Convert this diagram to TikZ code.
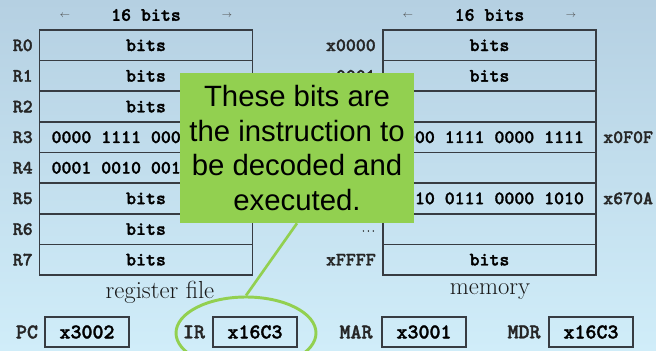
\documentclass[tikz,border=0pt]{standalone}
\usepackage{fontspec}
\usepackage{xcolor}
\usetikzlibrary{shapes,arrows,positioning}
\usetikzlibrary{shapes.geometric}

\newfontfamily\codefont{lmmonolt10-bold}[Extension=.otf, FakeBold=1.6]
\newfontfamily\notefont{Liberation Sans}

\definecolor{bgtop}{RGB}{181,208,226}
\definecolor{bgbottom}{RGB}{208,237,249}
\definecolor{notegreen}{RGB}{146,208,80}
\definecolor{boxline}{RGB}{55,60,66}

\begin{document}
\begin{tikzpicture}[
    x=0.75pt, y=-0.75pt,
    font=\codefont\fontsize{14.2}{16}\selectfont,
    cell/.style={
        draw=boxline,
        line width=1.1pt,
        minimum width=159.5pt,
        minimum height=22.97pt,
        inner sep=0pt
    },
    rowlabel/.style={
        anchor=east,
        inner sep=0pt,
        text=black!85
    },
    addrlabel/.style={
        anchor=west,
        inner sep=0pt,
        text=black!85
    },
    caption/.style={
        font=\rmfamily\fontsize{18.5}{21}\selectfont,
        text=black!90
    },
    widtharrow/.style={
        font=\rmfamily\fontsize{7.5}{9}\selectfont,
        text=black!70
    },
    regbox/.style={
        draw=boxline,
        line width=1.1pt,
        minimum width=63pt,
        minimum height=22.5pt,
        inner sep=0pt,
        font=\codefont\fontsize{15.7}{17}\selectfont
    },
    reglabel/.style={
        font=\codefont\fontsize{15.7}{17}\selectfont,
        text=black!85
    },
    note/.style={
        fill=notegreen,
        minimum width=175.5pt,
        minimum height=112.5pt,
        inner sep=0pt,
        align=center,
        font=\notefont\fontsize{22}{26}\selectfont
    },
    pointer/.style={
        notegreen,
        line width=2pt
    }
]
% Background
\useasboundingbox (0,0) rectangle (656,350);
\clip (0,0) rectangle (656,350);
\shade[top color=bgtop, bottom color=bgbottom] (0,0) rectangle (656,350);

% Register file
\node[widtharrow] (rwl) at (65,16) {$\leftarrow$};
\node (rwidth) at (146,15) {16 bits};
\node[widtharrow] (rwr) at (227,16) {$\rightarrow$};
\node[cell] (reg0) at (146,45.3) {bits};
\node[cell] (reg1) at (146,75.9) {bits};
\node[cell] (reg2) at (146,106.6) {bits};
\node[cell] (reg3) at (146,137.2) {0000 1111 0000 1111};
\node[cell] (reg4) at (146,167.8) {0001 0010 0011 0100};
\node[cell] (reg5) at (146,198.4) {bits};
\node[cell] (reg6) at (146,229.1) {bits};
\node[cell] (reg7) at (146,259.7) {bits};
\node[rowlabel] (lr0) at (33,45.3) {R0};
\node[rowlabel] (lr1) at (33,75.9) {R1};
\node[rowlabel] (lr2) at (33,106.6) {R2};
\node[rowlabel] (lr3) at (33,137.2) {R3};
\node[rowlabel] (lr4) at (33,167.8) {R4};
\node[rowlabel] (lr5) at (33,198.4) {R5};
\node[rowlabel] (lr6) at (33,229.1) {R6};
\node[rowlabel] (lr7) at (33,259.7) {R7};
\node[caption] (regcap) at (160,292) {register file};

% Memory
\node[widtharrow] (mwl) at (408,16) {$\leftarrow$};
\node (mwidth) at (489.5,15) {16 bits};
\node[widtharrow] (mwr) at (571,16) {$\rightarrow$};
\node[cell] (mem0) at (489.5,45.3) {bits};
\node[cell] (mem1) at (489.5,75.9) {bits};
\node[cell] (mem2) at (489.5,106.6) {};
\node[cell] (mem3) at (489.5,137.2) {0000 1111 0000 1111};
\node[cell] (mem4) at (489.5,167.8) {};
\node[cell] (mem5) at (489.5,198.4) {0110 0111 0000 1010};
\node[cell] (mem6) at (489.5,229.1) {};
\node[cell] (mem7) at (489.5,259.7) {bits};
\node[rowlabel] (la0) at (376,45.3) {x0000};
\node[rowlabel] (la1) at (376,75.9) {x0001};
\node[rowlabel, font=\codefont\fontsize{7}{8}\selectfont] (la6) at (376,231) {...};
\node[rowlabel] (la7) at (376,259.7) {xFFFF};
\node[addrlabel] (ra3) at (603,137.2) {x0F0F};
\node[addrlabel] (ra5) at (603,198.4) {x670A};
\node[caption] (memcap) at (490,292) {memory};

% Special registers
\node[reglabel] (pclabel) at (27,332) {PC};
\node[regbox] (pcbox) at (87,332) {x3002};
\node[reglabel] (irlabel) at (194,332) {IR};
\node[regbox] (irbox) at (255,332) {x16C3};
\node[reglabel] (marlabel) at (356,332) {MAR};
\node[regbox] (marbox) at (424,332) {x3001};
\node[reglabel] (mdrlabel) at (524,332) {MDR};
\node[regbox] (mdrbox) at (591,332) {x16C3};

% Callout on the IR
\node[note] (note) at (297,148) {These bits are\\the instruction to\\be decoded and\\executed.};
\node[ellipse, draw=notegreen, line width=2.2pt, minimum width=105pt,
      minimum height=54pt, inner sep=0pt] (irring) at (246,333) {};
\draw[pointer] (irring.north) -- (note.south);
\end{tikzpicture}
\end{document}
